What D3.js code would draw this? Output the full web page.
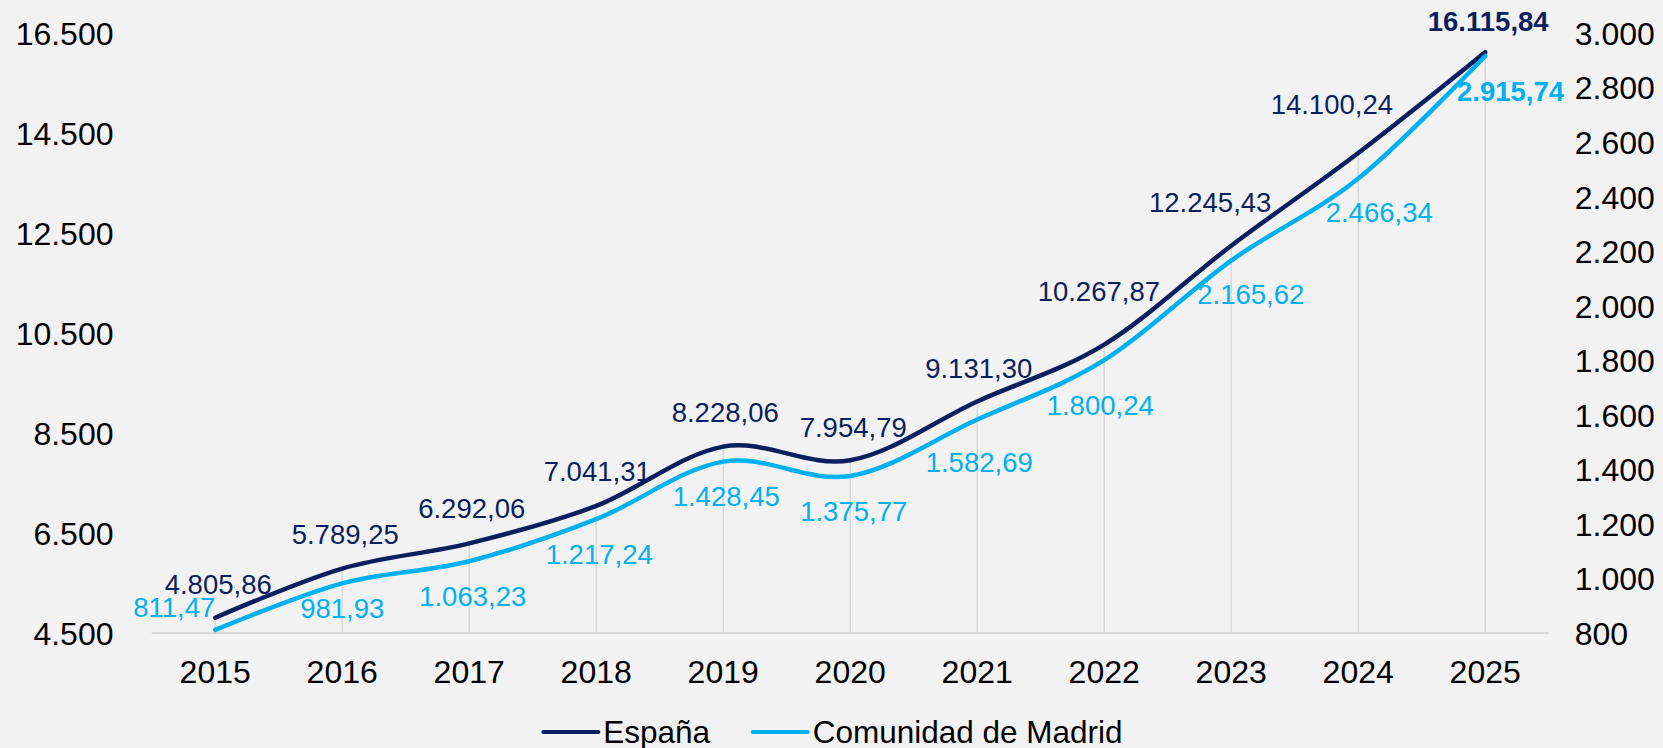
<!DOCTYPE html>
<html>
<head>
<meta charset="utf-8">
<script src="https://cdn.jsdelivr.net/npm/d3@7"></script>
<style>
  html, body { margin: 0; padding: 0; background: #f2f2f2; }
  svg { display: block; }
  text { font-family: "Liberation Sans", Arial, sans-serif; }
</style>
</head>
<body>
<svg id="chart" width="1663" height="748"></svg>
<script>
// ---- data ----
const years = ["2015","2016","2017","2018","2019","2020","2021","2022","2023","2024","2025"];
const espana = [4805.86, 5789.25, 6292.06, 7041.31, 8228.06, 7954.79, 9131.30, 10267.87, 12245.43, 14100.24, 16115.84];
const madrid = [811.47, 981.93, 1063.23, 1217.24, 1428.45, 1375.77, 1582.69, 1800.24, 2165.62, 2466.34, 2915.74];
const leftTicks = [4500, 6500, 8500, 10500, 12500, 14500, 16500];
const rightTicks = [800, 1000, 1200, 1400, 1600, 1800, 2000, 2200, 2400, 2600, 2800, 3000];
const seriesNames = ["España", "Comunidad de Madrid"];

// label offsets (layout only) relative to each point: [dx, dy] of label centre
const espanaLabelOffsets = [[3,-33],[3,-34],[2.5,-34.7],[1,-35],[2,-34],[3,-33],[1.5,-33.6],[-5.4,-53.4],[-21,-43.7],[-26.4,-49.2],[3,-31]];
const madridLabelOffsets = [[-41,-23],[0,25.3],[3.5,34.8],[3,34.8],[3,35],[3.5,35.7],[2,43],[-4,44.8],[19.6,34],[21,34],[25.3,35.3]];

// ---- styles ----
const cEsp = "#0b1f5e";
const cMad = "#00b0f0";
const gridC = "#d9d9d9";
const axisFont = 32;
const labelFont = 27.5;

const fmt = v => {
  const s = v.toFixed(2).split(".");
  return s[0].replace(/\B(?=(\d{3})+(?!\d))/g, ".") + "," + s[1];
};
const fmtTick = v => String(v).replace(/\B(?=(\d{3})+(?!\d))/g, ".");

const svg = d3.select("#chart");
svg.append("rect").attr("width", 1663).attr("height", 748).attr("fill", "#f2f2f2");

const x = d3.scaleBand().domain(years).range([151.7, 1548.7]).padding(0);
const xc = d => x(d) + x.bandwidth() / 2;
const yL = d3.scaleLinear().domain([4500, 16500]).range([633, 33]);
const yR = d3.scaleLinear().domain([800, 3000]).range([633, 33]);

// drop lines
svg.append("g").selectAll("line").data(years).join("line")
  .attr("x1", d => xc(d)).attr("x2", d => xc(d))
  .attr("y1", yL(4500)).attr("y2", (d, i) => yL(espana[i]))
  .attr("stroke", gridC).attr("stroke-width", 1.5);

// x axis line
svg.append("line")
  .attr("x1", x.range()[0]).attr("x2", x.range()[1])
  .attr("y1", yL(4500)).attr("y2", yL(4500))
  .attr("stroke", gridC).attr("stroke-width", 2);

// left axis
const gl = svg.append("g").attr("transform", "translate(113.5,0)")
  .call(d3.axisLeft(yL).tickValues(leftTicks).tickFormat(fmtTick).tickSize(0).tickPadding(0));
gl.select(".domain").remove();
gl.selectAll("text").attr("font-size", axisFont).attr("fill", "#000")
  .attr("font-family", "Liberation Sans, Arial, sans-serif").attr("dy", "0.355em");

// right axis
const gr = svg.append("g").attr("transform", "translate(1574.7,0)")
  .call(d3.axisRight(yR).tickValues(rightTicks).tickFormat(fmtTick).tickSize(0).tickPadding(0));
gr.select(".domain").remove();
gr.selectAll("text").attr("font-size", axisFont).attr("fill", "#000")
  .attr("font-family", "Liberation Sans, Arial, sans-serif").attr("dy", "0.355em");

// bottom axis
const gb = svg.append("g").attr("transform", "translate(0,671.5)")
  .call(d3.axisBottom(x).tickSize(0).tickPadding(0));
gb.select(".domain").remove();
gb.selectAll("text").attr("font-size", axisFont).attr("fill", "#000")
  .attr("font-family", "Liberation Sans, Arial, sans-serif").attr("dy", "0.355em");

// lines
const curve = d3.curveCardinal.tension(0);
const lineE = d3.line().x((d, i) => xc(years[i])).y(d => yL(d)).curve(curve);
const lineM = d3.line().x((d, i) => xc(years[i])).y(d => yR(d)).curve(curve);
svg.append("path").datum(espana).attr("d", lineE).attr("fill", "none")
  .attr("stroke", cEsp).attr("stroke-width", 4.5).attr("stroke-linecap", "round");
svg.append("path").datum(madrid).attr("d", lineM).attr("fill", "none")
  .attr("stroke", cMad).attr("stroke-width", 4.5).attr("stroke-linecap", "round");

// labels
svg.append("g").selectAll("text").data(espana).join("text")
  .attr("x", (d, i) => xc(years[i]) + espanaLabelOffsets[i][0])
  .attr("y", (d, i) => yL(d) + espanaLabelOffsets[i][1])
  .attr("dy", "0.355em").attr("text-anchor", "middle")
  .attr("font-size", labelFont).attr("fill", cEsp)
  .attr("font-weight", (d, i) => i === espana.length - 1 ? "bold" : "normal")
  .text(d => fmt(d));
svg.append("g").selectAll("text").data(madrid).join("text")
  .attr("x", (d, i) => xc(years[i]) + madridLabelOffsets[i][0])
  .attr("y", (d, i) => yR(d) + madridLabelOffsets[i][1])
  .attr("dy", "0.355em").attr("text-anchor", "middle")
  .attr("font-size", labelFont).attr("fill", cMad)
  .attr("font-weight", (d, i) => i === madrid.length - 1 ? "bold" : "normal")
  .text(d => fmt(d));

// legend
const legend = svg.append("g");
const legendItems = [
  { name: seriesNames[0], color: cEsp, x0: 543.3 },
  { name: seriesNames[1], color: cMad, x0: 752.7 }
];
legendItems.forEach(it => {
  legend.append("line").attr("x1", it.x0).attr("x2", it.x0 + 55)
    .attr("y1", 732).attr("y2", 732)
    .attr("stroke", it.color).attr("stroke-width", 4).attr("stroke-linecap", "round");
  legend.append("text").attr("x", it.x0 + 60).attr("y", 742.5)
    .attr("font-size", 31.5).attr("fill", "#000").text(it.name);
});
</script>
</body>
</html>
